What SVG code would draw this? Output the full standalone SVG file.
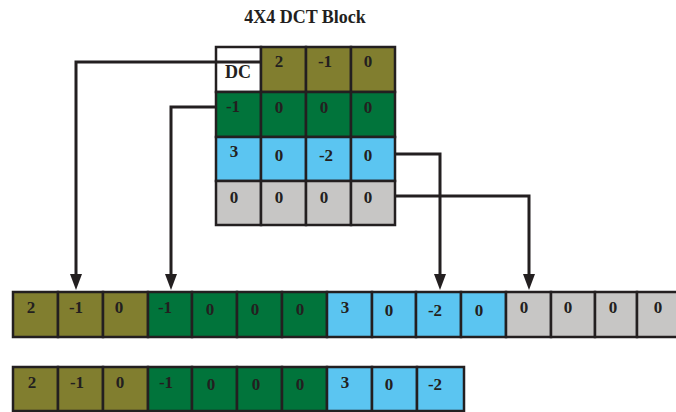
<svg xmlns="http://www.w3.org/2000/svg" width="676" height="412" viewBox="0 0 676 412">
  <style>
    .c rect { stroke: #231F20; stroke-width: 2.5; }
    .ol { fill: #817E2F; }
    .gr { fill: #01743B; }
    .cy { fill: #5BC5F1; }
    .gy { fill: #C7C6C5; }
    .wh { fill: #FFFFFF; }
    text { font-family: "Liberation Serif", "Times New Roman", serif; font-weight: bold; fill: #231F20; }
    .n { font-size: 17px; text-anchor: middle; }
    .t { font-size: 18px; text-anchor: middle; }
    .conn { fill: none; stroke: #231F20; stroke-width: 3; }
  </style>
  <defs>
    <marker id="arrow" markerUnits="userSpaceOnUse" markerWidth="18" markerHeight="14" viewBox="0 -7 17 14" refX="0" refY="0" orient="auto">
      <path d="M0,-6 L16,0 L0,6 z" fill="#231F20"/>
    </marker>
  </defs>

  <text id="title" class="t" x="305" y="23">4X4 DCT Block</text>

  <!-- 4x4 coefficient block -->
  <g id="block">
    <g id="b00" class="c"><rect class="wh" x="216" y="47" width="45" height="45"/><text class="t" x="238" y="78">DC</text></g>
    <g id="b01" class="c"><rect class="ol" x="261" y="47" width="45" height="45"/><text class="n" x="279" y="67">2</text></g>
    <g id="b02" class="c"><rect class="ol" x="306" y="47" width="45" height="45"/><text class="n" x="325" y="67">-1</text></g>
    <g id="b03" class="c"><rect class="ol" x="351" y="47" width="44" height="45"/><text class="n" x="368" y="67">0</text></g>

    <g id="b10" class="c"><rect class="gr" x="216" y="92" width="45" height="45"/><text class="n" x="233" y="112">-1</text></g>
    <g id="b11" class="c"><rect class="gr" x="261" y="92" width="45" height="45"/><text class="n" x="279" y="113">0</text></g>
    <g id="b12" class="c"><rect class="gr" x="306" y="92" width="45" height="45"/><text class="n" x="324" y="113">0</text></g>
    <g id="b13" class="c"><rect class="gr" x="351" y="92" width="44" height="45"/><text class="n" x="368" y="113">0</text></g>

    <g id="b20" class="c"><rect class="cy" x="216" y="137" width="45" height="44"/><text class="n" x="234" y="157">3</text></g>
    <g id="b21" class="c"><rect class="cy" x="261" y="137" width="45" height="44"/><text class="n" x="279" y="161">0</text></g>
    <g id="b22" class="c"><rect class="cy" x="306" y="137" width="45" height="44"/><text class="n" x="326" y="161">-2</text></g>
    <g id="b23" class="c"><rect class="cy" x="351" y="137" width="44" height="44"/><text class="n" x="368" y="161">0</text></g>

    <g id="b30" class="c"><rect class="gy" x="216" y="181" width="45" height="44"/><text class="n" x="234" y="203">0</text></g>
    <g id="b31" class="c"><rect class="gy" x="261" y="181" width="45" height="44"/><text class="n" x="279" y="203">0</text></g>
    <g id="b32" class="c"><rect class="gy" x="306" y="181" width="45" height="44"/><text class="n" x="324" y="203">0</text></g>
    <g id="b33" class="c"><rect class="gy" x="351" y="181" width="44" height="44"/><text class="n" x="368" y="203">0</text></g>
  </g>

  <!-- zig-zag scanned sequence -->
  <g id="scan">
    <g id="s1" class="c"><rect class="ol" x="13" y="292" width="45" height="45"/><text class="n" x="31" y="313">2</text></g>
    <g id="s2" class="c"><rect class="ol" x="58" y="292" width="45" height="45"/><text class="n" x="76" y="313">-1</text></g>
    <g id="s3" class="c"><rect class="ol" x="103" y="292" width="45" height="45"/><text class="n" x="119" y="313">0</text></g>
    <g id="s4" class="c"><rect class="gr" x="148" y="292" width="44" height="45"/><text class="n" x="165" y="313">-1</text></g>
    <g id="s5" class="c"><rect class="gr" x="192" y="292" width="45" height="45"/><text class="n" x="210" y="315">0</text></g>
    <g id="s6" class="c"><rect class="gr" x="237" y="292" width="45" height="45"/><text class="n" x="255" y="315">0</text></g>
    <g id="s7" class="c"><rect class="gr" x="282" y="292" width="45" height="45"/><text class="n" x="300" y="315">0</text></g>
    <g id="s8" class="c"><rect class="cy" x="327" y="292" width="45" height="45"/><text class="n" x="345" y="313">3</text></g>
    <g id="s9" class="c"><rect class="cy" x="372" y="292" width="44" height="45"/><text class="n" x="389" y="316">0</text></g>
    <g id="s10" class="c"><rect class="cy" x="416" y="292" width="45" height="45"/><text class="n" x="435" y="316">-2</text></g>
    <g id="s11" class="c"><rect class="cy" x="461" y="292" width="45" height="45"/><text class="n" x="479" y="316">0</text></g>
    <g id="s12" class="c"><rect class="gy" x="506" y="292" width="45" height="45"/><text class="n" x="524" y="313">0</text></g>
    <g id="s13" class="c"><rect class="gy" x="551" y="292" width="44" height="45"/><text class="n" x="568" y="313">0</text></g>
    <g id="s14" class="c"><rect class="gy" x="595" y="292" width="42" height="45"/><text class="n" x="613" y="313">0</text></g>
    <g id="s15" class="c"><rect class="gy" x="637" y="292" width="45" height="45"/><text class="n" x="658" y="313">0</text></g>
  </g>

  <!-- sequence after dropping trailing zeros -->
  <g id="trimmed">
    <g id="r1" class="c"><rect class="ol" x="13" y="367" width="45" height="44"/><text class="n" x="32" y="388">2</text></g>
    <g id="r2" class="c"><rect class="ol" x="58" y="367" width="45" height="44"/><text class="n" x="77" y="388">-1</text></g>
    <g id="r3" class="c"><rect class="ol" x="103" y="367" width="45" height="44"/><text class="n" x="120" y="388">0</text></g>
    <g id="r4" class="c"><rect class="gr" x="148" y="367" width="44" height="44"/><text class="n" x="166" y="388">-1</text></g>
    <g id="r5" class="c"><rect class="gr" x="192" y="367" width="45" height="44"/><text class="n" x="211" y="390">0</text></g>
    <g id="r6" class="c"><rect class="gr" x="237" y="367" width="45" height="44"/><text class="n" x="256" y="390">0</text></g>
    <g id="r7" class="c"><rect class="gr" x="282" y="367" width="45" height="44"/><text class="n" x="300" y="390">0</text></g>
    <g id="r8" class="c"><rect class="cy" x="327" y="367" width="45" height="44"/><text class="n" x="345" y="388">3</text></g>
    <g id="r9" class="c"><rect class="cy" x="372" y="367" width="45" height="44"/><text class="n" x="389" y="390">0</text></g>
    <g id="r10" class="c"><rect class="cy" x="417" y="367" width="47" height="44"/><text class="n" x="435" y="390">-2</text></g>
  </g>

  <!-- connectors from block to sequence -->
  <g id="connectors">
    <path class="conn" d="M261,62 H76 V274" marker-end="url(#arrow)"/>
    <path class="conn" d="M216,107 H171 V274" marker-end="url(#arrow)"/>
    <path class="conn" d="M395,154 H440 V274" marker-end="url(#arrow)"/>
    <path class="conn" d="M395,196 H529 V274" marker-end="url(#arrow)"/>
  </g>
</svg>
